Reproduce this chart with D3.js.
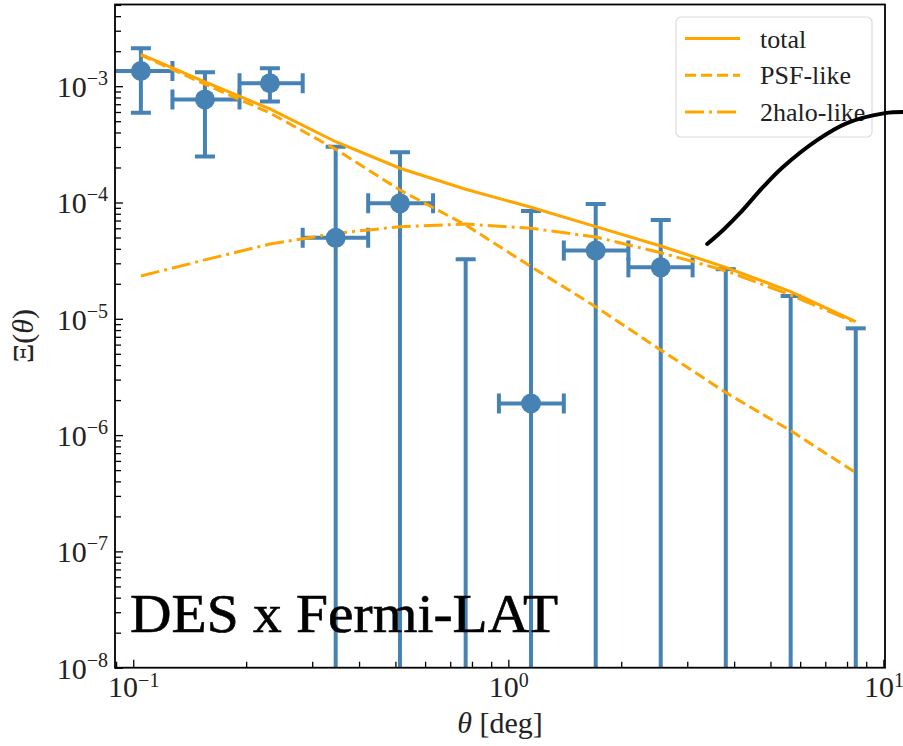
<!DOCTYPE html>
<html>
<head>
<meta charset="utf-8">
<script src="https://cdn.jsdelivr.net/npm/d3@7"></script>
<style>
  body { margin: 0; background: #fff; }
  text { font-family: "Liberation Serif", "DejaVu Serif", serif; }
</style>
</head>
<body>
<div id="plt"></div>
<script>
// measured bins (theta in deg)
var theta  = [0.1048, 0.1553, 0.2314, 0.3465, 0.5142, 0.7696, 1.1495, 1.710, 2.549, 3.80, 5.66, 8.44];
var binLo  = [0.0861, 0.1272, 0.192, 0.283, 0.423, 0.63, 0.944, 1.406, 2.09, 3.10, 4.62, 6.95];
var binHi  = [0.1272, 0.192, 0.283, 0.423, 0.63, 0.944, 1.406, 2.09, 3.10, 4.62, 6.95, 10.3];

// data points, null = negative value (not shown on log axis)
var xi     = [1.35e-3, 7.7e-4, 1.06e-3, 4.97e-5, 9.84e-5, null, 1.87e-6, 3.86e-5, 2.77e-5, null, null, null];
var xiHi   = [2.12e-3, 1.32e-3, 1.43e-3, 3.02e-4, 2.7e-4, 3.25e-5, 8.45e-5, 9.7e-5, 7.08e-5, 2.67e-5, 1.57e-5, 8.28e-6];
var xiLo   = [5.9e-4, 2.48e-4, 7.4e-4, 0, 0, 0, 0, 0, 0, 0, 0, 0];

// model curves
var total   = [1.88e-3, 1.09e-3, 6.37e-4, 3.33e-4, 1.97e-4, 1.30e-4, 9.1e-5, 6.2e-5, 4.23e-5, 2.77e-5, 1.71e-5, 9.44e-6];
var psfLike = [1.85e-3, 1.04e-3, 5.89e-4, 2.87e-4, 1.28e-4, 6.41e-5, 2.81e-5, 1.27e-5, 5.39e-6, 2.32e-6, 1.09e-6, 4.75e-7];
var halo2   = [2.33e-5, 3.21e-5, 4.39e-5, 5.43e-5, 6.19e-5, 6.53e-5, 6.0e-5, 5.05e-5, 3.70e-5, 2.59e-5, 1.60e-5, 9.25e-6];

// hand drawn annotation stroke
var scribbleTheta = [3.39, 3.74, 4.15, 4.78, 5.40, 6.66, 8.00, 10.1, 11.3];
var scribbleXi    = [4.40e-5, 5.81e-5, 8.13e-5, 1.36e-4, 2.02e-4, 3.44e-4, 4.82e-4, 5.87e-4, 6.0e-4];

var xMajor = [0.1, 1, 10];
var yMajor = [1e-8, 1e-7, 1e-6, 1e-5, 1e-4, 1e-3];
var xLabels = ["-1", "0", "1"];
var yLabels = ["-8", "-7", "-6", "-5", "-4", "-3"];

var legendNames = ["total", "PSF-like", "2halo-like"];

var orange = "#FFA500";
var blue = "#4682B4";

// set the dimensions and margins of the plot
var margin = {top: 4.5, right: 18, bottom: 78.3, left: 115};
var width = 903 - margin.left - margin.right;
var height = 746 - margin.top - margin.bottom;

var svgRoot = d3.select("#plt")
            .append("svg")
            .attr("width", 903)
            .attr("height", 746);

var svg = svgRoot.append("g")
            .attr("transform", "translate(" + margin.left + "," + margin.top + ")");

svg.append("clipPath")
   .attr("id", "clip")
   .append("rect")
   .attr("width", width)
   .attr("height", height);

var x = d3.scaleLog()
          .domain([0.0894, 10.1])
          .range([0, width]);

var y = d3.scaleLog()
          .domain([1e-8, 5.04e-3])
          .range([height, 0]);

// minor tick values
var xMinor = [];
[0.01, 0.1, 1].forEach(function(b) { for (var m = 2; m < 10; m++) xMinor.push(b * m); });
xMinor = xMinor.filter(function(v) { return v > x.domain()[0] && v < x.domain()[1]; });
var yMinor = [];
[1e-8, 1e-7, 1e-6, 1e-5, 1e-4, 1e-3].forEach(function(b) { for (var m = 2; m < 10; m++) yMinor.push(b * m); });
yMinor = yMinor.filter(function(v) { return v < y.domain()[1]; });

// axes: inward ticks
svg.append("g")
   .attr("transform", "translate(0," + height + ")")
   .call(d3.axisBottom(x).tickValues(xMinor).tickSize(-6).tickFormat(""))
   .call(function(g) { g.select(".domain").remove(); });

svg.append("g")
   .call(d3.axisLeft(y).tickValues(yMinor).tickSize(-6).tickFormat(""))
   .call(function(g) { g.select(".domain").remove(); });

var xAx = svg.append("g")
   .attr("transform", "translate(0," + height + ")")
   .call(d3.axisBottom(x).tickValues(xMajor).tickSize(-8).tickPadding(0).tickFormat(""));
xAx.select(".domain").remove();
xAx.selectAll(".tick text").remove();
xAx.selectAll(".tick").each(function(d, i) {
  var t = d3.select(this).append("text")
            .attr("y", 29)
            .attr("text-anchor", "middle")
            .attr("fill", "#222")
            .style("font-size", "30px");
  t.append("tspan").text("10");
  t.append("tspan").attr("dy", -10).style("font-size", "20px").text(xLabels[i].replace("-", "\u2212"));
});

var yAx = svg.append("g")
   .call(d3.axisLeft(y).tickValues(yMajor).tickSize(-8).tickFormat(""));
yAx.select(".domain").remove();
yAx.selectAll(".tick text").remove();
yAx.selectAll(".tick").each(function(d, i) {
  var t = d3.select(this).append("text")
            .attr("x", -7)
            .attr("y", 10.5)
            .attr("text-anchor", "end")
            .attr("fill", "#222")
            .style("font-size", "30px");
  t.append("tspan").text("10");
  t.append("tspan").attr("dy", -12).style("font-size", "20px").text(yLabels[i].replace("-", "\u2212"));
});
svg.selectAll(".tick line").attr("stroke", "#000").attr("stroke-width", 1.3);

// axis titles
var xt = svgRoot.append("text")
   .attr("x", margin.left + width / 2)
   .attr("y", 733)
   .attr("text-anchor", "middle")
   .attr("fill", "#222")
   .style("font-size", "30px");
xt.append("tspan").style("font-style", "italic").text("\u03b8");
xt.append("tspan").text(" [deg]");

svgRoot.append("text")
   .attr("transform", "translate(33," + (margin.top + height / 2) + ")rotate(-90)")
   .attr("text-anchor", "middle")
   .attr("fill", "#222")
   .style("font-size", "30px")
   .html("\u039e(<tspan font-style=\"italic\">\u03b8</tspan>)");

var plot = svg.append("g").attr("clip-path", "url(#clip)");

// error bars
var idx = d3.range(theta.length);
var lowY = function(i) { return xiLo[i] > 0 ? y(xiLo[i]) : height + 20; };

plot.selectAll(".vbar").data(idx).enter().append("line")
    .attr("x1", function(i) { return x(theta[i]); })
    .attr("x2", function(i) { return x(theta[i]); })
    .attr("y1", function(i) { return y(xiHi[i]); })
    .attr("y2", lowY)
    .attr("stroke", blue).attr("stroke-width", 4);

plot.selectAll(".capTop").data(idx).enter().append("line")
    .attr("x1", function(i) { return x(theta[i]) - 10; })
    .attr("x2", function(i) { return x(theta[i]) + 10; })
    .attr("y1", function(i) { return y(xiHi[i]); })
    .attr("y2", function(i) { return y(xiHi[i]); })
    .attr("stroke", blue).attr("stroke-width", 4);

plot.selectAll(".capBot").data(idx.filter(function(i) { return xiLo[i] > 0; })).enter().append("line")
    .attr("x1", function(i) { return x(theta[i]) - 10; })
    .attr("x2", function(i) { return x(theta[i]) + 10; })
    .attr("y1", lowY)
    .attr("y2", lowY)
    .attr("stroke", blue).attr("stroke-width", 4);

var shown = idx.filter(function(i) { return xi[i] !== null; });

plot.selectAll(".hbar").data(shown).enter().append("line")
    .attr("x1", function(i) { return x(binLo[i]); })
    .attr("x2", function(i) { return x(binHi[i]); })
    .attr("y1", function(i) { return y(xi[i]); })
    .attr("y2", function(i) { return y(xi[i]); })
    .attr("stroke", blue).attr("stroke-width", 4);

shown.forEach(function(i) {
  [binLo[i], binHi[i]].forEach(function(b) {
    plot.append("line")
        .attr("x1", x(b)).attr("x2", x(b))
        .attr("y1", y(xi[i]) - 10).attr("y2", y(xi[i]) + 10)
        .attr("stroke", blue).attr("stroke-width", 4);
  });
});

// model curves
var curves = [
  {name: legendNames[0], vals: total, dash: null},
  {name: legendNames[1], vals: psfLike, dash: "11,5"},
  {name: legendNames[2], vals: halo2, dash: "19,5,3,5"}
];

var line = d3.line()
  .x(function(d) { return x(d[0]); })
  .y(function(d) { return y(d[1]); });

curves.forEach(function(c) {
  plot.append("path")
      .datum(d3.zip(theta, c.vals))
      .attr("d", line)
      .attr("fill", "none")
      .attr("stroke", orange)
      .attr("stroke-width", 3)
      .attr("stroke-dasharray", c.dash);
});

// markers
plot.selectAll(".pt").data(shown).enter().append("circle")
    .attr("cx", function(i) { return x(theta[i]); })
    .attr("cy", function(i) { return y(xi[i]); })
    .attr("r", 10)
    .attr("fill", blue);

// frame
svg.append("rect")
   .attr("width", width)
   .attr("height", height)
   .attr("fill", "none")
   .attr("stroke", "#000")
   .attr("stroke-width", 1.8);

// legend
var lg = svgRoot.append("g").attr("transform", "translate(676,17)");
lg.append("rect")
  .attr("width", 196).attr("height", 120)
  .attr("rx", 5)
  .attr("fill", "#fff").attr("fill-opacity", 0.85)
  .attr("stroke", "#dcdcdc").attr("stroke-width", 1.2);
curves.forEach(function(c, i) {
  var yy = 21.5 + i * 36.7;
  lg.append("line")
    .attr("x1", 9).attr("x2", 64)
    .attr("y1", yy).attr("y2", yy)
    .attr("stroke", orange).attr("stroke-width", 3)
    .attr("stroke-dasharray", c.dash);
  lg.append("text")
    .attr("x", 84).attr("y", yy + 9)
    .attr("fill", "#222")
    .style("font-size", "26px")
    .text(c.name);
});

// big label
svgRoot.append("text")
   .attr("x", 130)
   .attr("y", 632)
   .attr("fill", "#000")
   .attr("stroke", "#000")
   .attr("stroke-width", 0.6)
   .attr("textLength", 428)
   .attr("lengthAdjust", "spacingAndGlyphs")
   .style("font-size", "54px")
   .text("DES x Fermi-LAT");

// annotation stroke
svgRoot.append("path")
   .datum(d3.zip(scribbleTheta, scribbleXi))
   .attr("transform", "translate(" + margin.left + "," + margin.top + ")")
   .attr("d", line.curve(d3.curveCatmullRom))
   .attr("fill", "none")
   .attr("stroke", "#000")
   .attr("stroke-width", 4)
   .attr("stroke-linecap", "round");
</script>
</body>
</html>
